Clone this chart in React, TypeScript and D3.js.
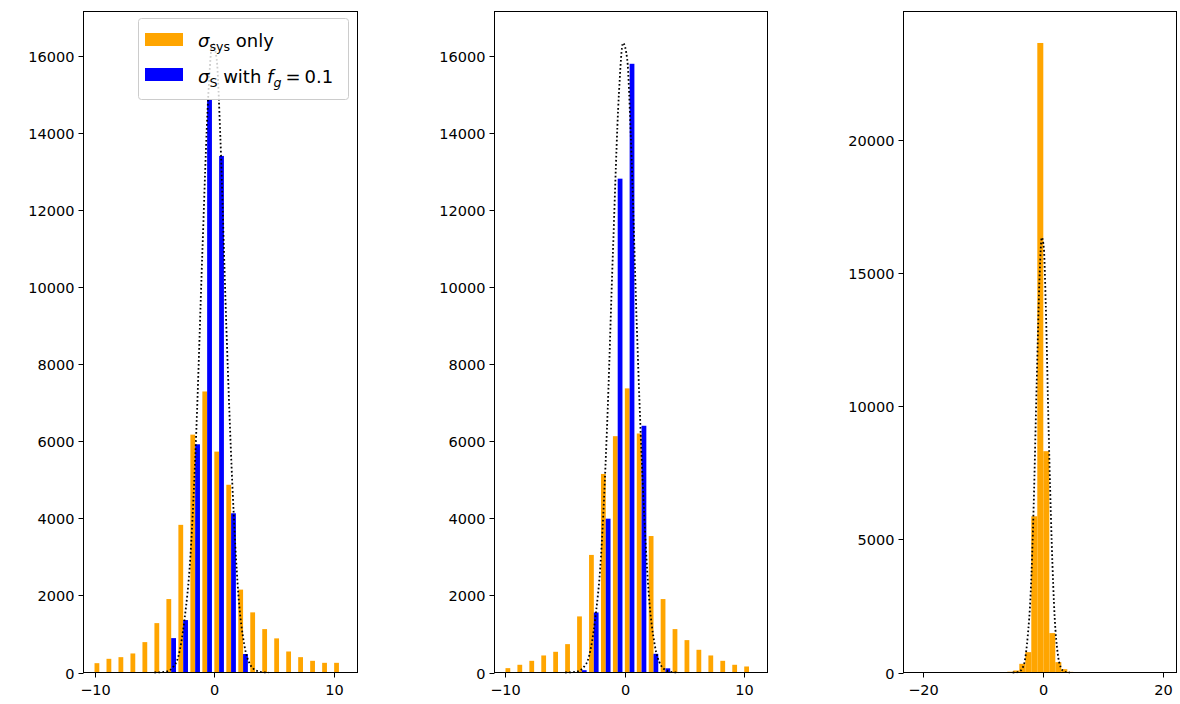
import React from "react";
import * as d3 from "d3";

// bins shared by the two left panels (21 bins, width 1)
const binStart = -10.1;
const binWidth = 1.0;

// left panel: sigma_sys only (orange) and sigma_S with f_g = 0.1 (blue)
const sysCountsA = [242, 355, 398, 494, 788, 1281, 1905, 3830, 6170, 7290, 5730, 4870, 2150, 1560, 1126, 885, 545, 398, 303, 251, 251];
const sCountsA = [0, 0, 0, 0, 0, 0, 892, 1360, 5920, 14860, 13400, 4130, 480, 0, 0, 0, 0, 0, 0, 0, 0];

// middle panel
const sysCountsB = [113, 200, 303, 442, 537, 736, 1455, 3050, 5150, 6130, 7370, 6200, 3540, 1905, 1126, 840, 589, 442, 303, 200, 156];
const sCountsB = [0, 0, 0, 0, 0, 0, 60, 1558, 3990, 12810, 15790, 6400, 485, 108, 0, 0, 0, 0, 0, 0, 0];

// right panel: single histogram, bins of width 1 starting at -5.9
const binStartC = -5.9;
const sysCountsC = [30, 75, 326, 764, 5865, 23630, 8308, 1479, 388, 125, 25];

// dotted reference curve (same in every panel)
const curveX = [-5, -4.5, -4, -3.5, -3, -2.5, -2, -1.5, -1, -0.5, -0.15, 0.2, 0.5, 1, 1.5, 2, 2.5, 3, 3.5, 4, 4.5];
const curveY = [0, 5, 25, 120, 420, 1350, 3000, 6300, 10900, 15000, 16330, 15900, 13900, 9000, 4900, 2050, 720, 200, 50, 10, 0];

const yTicksAB = [0, 2000, 4000, 6000, 8000, 10000, 12000, 14000, 16000];
const yTicksC = [0, 5000, 10000, 15000, 20000];
const xTicksAB = [-10, 0, 10];
const xTicksC = [-20, 0, 20];

const ORANGE = "#ffa500";
const BLUE = "#0000ff";
const FONT = "DejaVu Sans";
const FS = 14.5;
const LFS = 18;

const W = 1180;
const H = 704;
const TOP = 11.5;
const BOTTOM = 672.5;

type Panel = {
  left: number;
  right: number;
  xDomain: [number, number];
  xTicks: number[];
  yTicks: number[];
  series: { counts: number[]; color: string }[];
  start: number;
};

const panels: Panel[] = [
  {
    left: 83.5,
    right: 357.5,
    xDomain: [-10.92, 11.95],
    xTicks: xTicksAB,
    yTicks: yTicksAB,
    start: binStart,
    series: [
      { counts: sysCountsA, color: ORANGE },
      { counts: sCountsA, color: BLUE },
    ],
  },
  {
    left: 494.5,
    right: 767.5,
    xDomain: [-10.92, 11.95],
    xTicks: xTicksAB,
    yTicks: yTicksAB,
    start: binStart,
    series: [
      { counts: sysCountsB, color: ORANGE },
      { counts: sCountsB, color: BLUE },
    ],
  },
  {
    left: 903.5,
    right: 1176.5,
    xDomain: [-23.2, 22.3],
    xTicks: xTicksC,
    yTicks: yTicksC,
    start: binStartC,
    series: [{ counts: sysCountsC, color: ORANGE }],
  },
];

const fmt = (v: number) => (v < 0 ? "\u2212" + Math.abs(v) : String(v));

const HistPanel = ({ p }: { p: Panel }) => {
  const yMax =
    1.05 * Math.max(d3.max(curveY) as number, ...p.series.map((s) => d3.max(s.counts) as number));
  const x = d3.scaleLinear().domain(p.xDomain).range([p.left, p.right]);
  const y = d3.scaleLinear().domain([0, yMax]).range([BOTTOM, TOP]);

  const n = p.series.length;
  // matplotlib: several datasets share 80% of the bin, a single one fills it
  const dr = n > 1 ? 0.8 : 1.0;
  const bw = (binWidth * dr) / n;
  const off = (binWidth * (1 - dr)) / 2;

  const line = d3
    .line<number>()
    .x((_, i) => x(curveX[i]))
    .y((d) => y(d))
    .curve(d3.curveMonotoneX);

  return (
    <g>
      {p.series.map((s, si) =>
        s.counts.map((c, i) => {
          if (c <= 0) return null;
          const x0 = p.start + i * binWidth + off + si * bw;
          return (
            <rect
              key={`${si}-${i}`}
              x={x(x0)}
              y={y(c)}
              width={x(x0 + bw) - x(x0)}
              height={y(0) - y(c)}
              fill={s.color}
            />
          );
        })
      )}
      <path
        d={line(curveY) || ""}
        fill="none"
        stroke="#000"
        strokeWidth={1.8}
        strokeDasharray="1.7 2.3"
      />
      <rect
        x={p.left}
        y={TOP}
        width={p.right - p.left}
        height={BOTTOM - TOP}
        fill="none"
        stroke="#000"
        strokeWidth={1}
      />
      {p.yTicks.map((t) => (
        <g key={"y" + t} transform={`translate(${p.left},${Math.round(y(t)) + 0.5})`}>
          <line x1={-5} x2={0} stroke="#000" strokeWidth={1} />
          <text x={-9} y={5.5} textAnchor="end" fontSize={FS} fontFamily={FONT} fill="#000">
            {fmt(t)}
          </text>
        </g>
      ))}
      {p.xTicks.map((t) => (
        <g key={"x" + t} transform={`translate(${Math.round(x(t)) + 0.5},${BOTTOM})`}>
          <line y1={0} y2={5} stroke="#000" strokeWidth={1} />
          <text y={22} textAnchor="middle" fontSize={FS} fontFamily={FONT} fill="#000">
            {fmt(t)}
          </text>
        </g>
      ))}
    </g>
  );
};

const Legend = () => (
  <g fontFamily={FONT} fontSize={LFS} fill="#000">
    <rect x={138.5} y={18.5} width={210} height={81} rx={3} fill="#fff" fillOpacity={0.8} stroke="#cccccc" />
    <rect x={145} y={33} width={38} height={13} fill={ORANGE} />
    <rect x={145} y={68} width={38} height={13} fill={BLUE} />
    <text x={198} y={47}>
      <tspan fontStyle="italic">σ</tspan>
      <tspan fontSize={LFS * 0.7} dy={3.5}>sys</tspan>
      <tspan dy={-3.5}> only</tspan>
    </text>
    <text x={198} y={83}>
      <tspan fontStyle="italic">σ</tspan>
      <tspan fontSize={LFS * 0.7} dy={3.5}>S</tspan>
      <tspan dy={-3.5}> with </tspan>
      <tspan fontStyle="italic">f</tspan>
      <tspan fontSize={LFS * 0.7} fontStyle="italic" dy={3.5}>g</tspan>
      <tspan dy={-3.5} dx={4}>=</tspan>
      <tspan dx={4}>0.1</tspan>
    </text>
  </g>
);

export default function App() {
  return (
    <svg
      width={W}
      height={H}
      style={{ position: "absolute", left: 0, top: 0, background: "#fff" }}
    >
      {panels.map((p, i) => (
        <HistPanel key={i} p={p} />
      ))}
      <Legend />
    </svg>
  );
}
